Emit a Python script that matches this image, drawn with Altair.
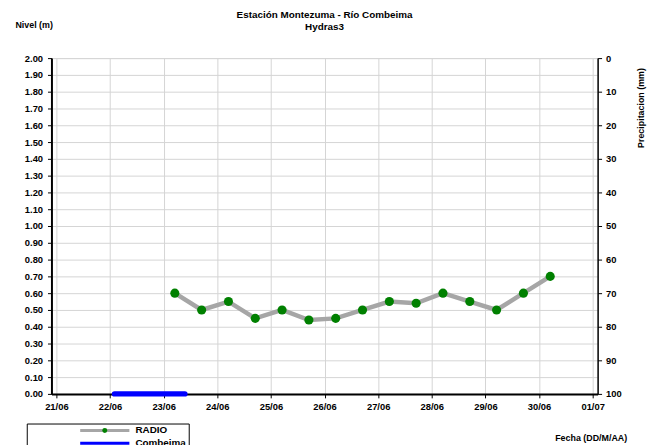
import altair as alt
import pandas as pd

# ---- data ----
radio_times = [
    "2014-06-23T05:00", "2014-06-23T17:00", "2014-06-24T05:00", "2014-06-24T17:00",
    "2014-06-25T05:00", "2014-06-25T17:00", "2014-06-26T05:00", "2014-06-26T17:00",
    "2014-06-27T05:00", "2014-06-27T17:00", "2014-06-28T05:00", "2014-06-28T17:00",
    "2014-06-29T05:00", "2014-06-29T17:00", "2014-06-30T05:00",
]
radio_values = [0.60, 0.50, 0.55, 0.45, 0.50, 0.44, 0.45, 0.50,
                0.55, 0.54, 0.60, 0.55, 0.50, 0.60, 0.70]

combeima_times = ["2014-06-22T02:00", "2014-06-22T14:00", "2014-06-23T02:00", "2014-06-23T09:30"]
combeima_values = [0.0, 0.0, 0.0, 0.0]

precip_times = ["2014-06-22T00:00", "2014-06-25T00:00", "2014-06-28T00:00"]
precip_values = [0, 0, 0]

series_names = ["RADIO", "Combeima"]
series_colors = ["#a6a6a6", "#0000ff"]

day_ticks = [f"2014-06-{d:02d}" for d in range(21, 31)] + ["2014-07-01"]
level_ticks = [round(i * 0.1, 1) for i in range(0, 21)]
precip_ticks = list(range(0, 101, 10))

radio = pd.DataFrame({"fecha": radio_times, "nivel": radio_values, "serie": "RADIO"})
comb = pd.DataFrame({"fecha": combeima_times, "nivel": combeima_values, "serie": "Combeima"})
prec = pd.DataFrame({"fecha": precip_times, "precip": precip_values})

FONT = "Liberation Sans"

x_dom = [alt.DateTime(year=2014, month=6, date=21), alt.DateTime(year=2014, month=7, date=1)]
x_vals = [alt.DateTime(year=int(t[:4]), month=int(t[5:7]), date=int(t[8:10])) for t in day_ticks]

x_axis = alt.Axis(
    values=x_vals, format="%d/%m", title="Fecha (DD/M/AA)",
    labelFont=FONT, labelFontWeight="bold", labelFontSize=9.5, labelColor="black",
    labelFlush=False, labelPadding=4, labelOverlap=False,
    domainColor="black", domainWidth=2, tickColor="black", tickSize=4,
    grid=True, gridColor="#d4d4d4", gridWidth=1,
    titleFont=FONT, titleFontWeight="bold", titleFontSize=9, titleColor="black",
    titleX=546, titleY=44, titleAlign="center", titleBaseline="middle",
)
x_scale = alt.Scale(domain=x_dom)

y_scale = alt.Scale(domain=[0, 2])
y_axis = alt.Axis(
    orient="left", values=level_ticks, format=".2f", title="Nivel (m)",
    labelFont=FONT, labelFontWeight="bold", labelFontSize=9.5, labelColor="black",
    labelPadding=5, labelOverlap=False,
    domainColor="black", domainWidth=2, tickColor="black", tickSize=4,
    grid=True, gridColor="#d4d4d4", gridWidth=1,
    titleFont=FONT, titleFontWeight="bold", titleFontSize=9, titleColor="black",
    titleAngle=0, titleX=-18, titleY=-34, titleAlign="center", titleBaseline="middle",
)

color_scale = alt.Scale(domain=series_names, range=series_colors)
legend_common = dict(
    orient="none", legendX=-25, legendY=370, title=None, direction="vertical",
    labelFont=FONT, labelFontWeight="bold", labelFontSize=10, labelColor="black",
    padding=2, symbolOffset=72, rowPadding=1, labelOffset=26, labelLimit=200,
)

x_enc = alt.X("fecha:T", scale=x_scale, axis=x_axis)
y_enc = alt.Y("nivel:Q", scale=y_scale, axis=y_axis)

line_radio = alt.Chart(radio).mark_line(strokeWidth=4.5).encode(
    x=x_enc,
    y=y_enc,
    color=alt.Color("serie:N", scale=color_scale, legend=alt.Legend(
        symbolType="M-8.3,0H8.3", symbolSize=36, symbolStrokeWidth=3,
        strokeColor="black", **legend_common)),
)
line_comb = alt.Chart(comb).mark_line(strokeWidth=5.5, strokeCap="round").encode(
    x=x_enc,
    y=y_enc,
    color=alt.Color("serie:N", scale=color_scale),
)
points = alt.Chart(radio).mark_circle(size=85, opacity=1).encode(
    x=x_enc,
    y=y_enc,
    fill=alt.Fill("serie:N", scale=alt.Scale(domain=["RADIO"], range=["#008000"]),
                  legend=alt.Legend(symbolType="circle", symbolSize=25, symbolStrokeWidth=0,
                                    labelOpacity=0, **legend_common)),
)

precip = alt.Chart(prec).mark_bar(color="#0000ff").encode(
    x=x_enc,
    y=alt.Y("precip:Q", scale=alt.Scale(domain=[0, 100], reverse=True),
            axis=alt.Axis(
                orient="right", values=precip_ticks, format="d", title="Precipitacion  (mm)",
                labelFont=FONT, labelFontWeight="bold", labelFontSize=9.5, labelColor="black",
                labelPadding=4, labelOverlap=False,
                domainColor="black", domainWidth=1.5, tickColor="black",
                tickSize=4, grid=False,
                titleFont=FONT, titleFontWeight="bold", titleFontSize=9, titleColor="black",
                titleAngle=270, titleX=43, titleY=50, titleAlign="center", titleBaseline="middle",
            )),
)

chart = alt.layer(
    alt.layer(line_radio, line_comb, points),
    precip,
).resolve_scale(y="independent").properties(
    width=553, height=340,
    padding={"left": 44, "top": 48, "right": 50, "bottom": 49},
    autosize=alt.AutoSizeParams(type="none"),
    title=alt.TitleParams(
        text=["Estación Montezuma - Río Combeima", "Hydras3"],
        font=FONT, fontSize=10, fontWeight="bold", color="black",
        anchor="middle", frame="group", lineHeight=13, offset=0, dy=12,
    ),
).configure_view(stroke="#808080", strokeWidth=2).configure(background="white")

chart.save("out.html", embed_options={"renderer": "svg", "actions": False})
